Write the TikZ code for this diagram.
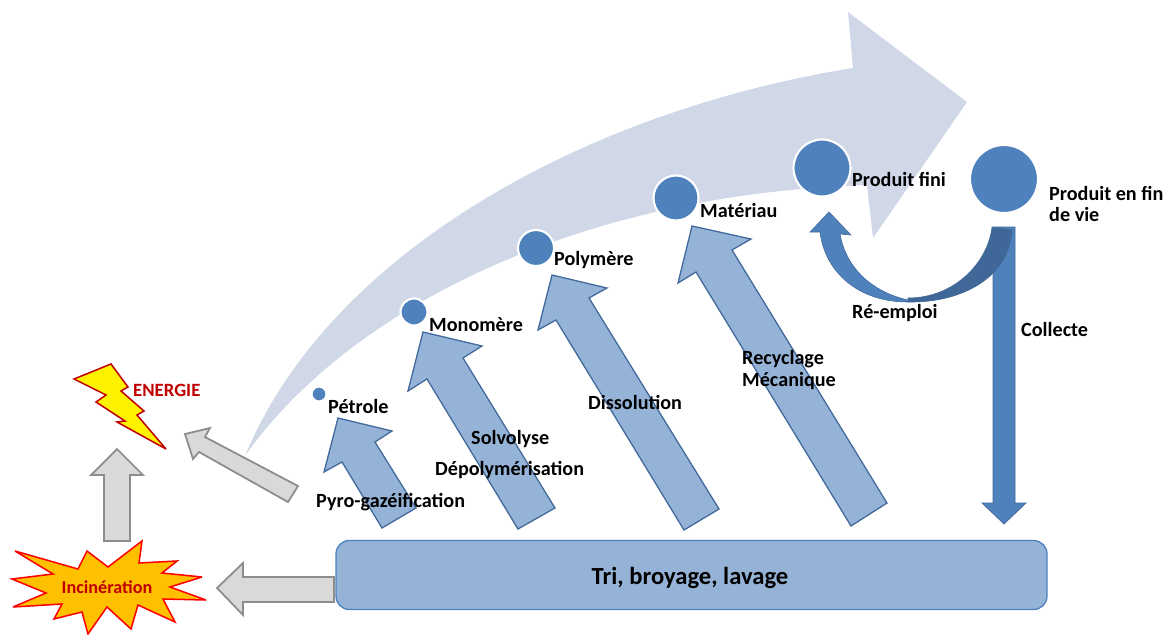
\documentclass[tikz,border=0pt]{standalone}
\usepackage{fontspec}
\setmainfont{Carlito}
\definecolor{palearrow}{HTML}{D0D8E8}
\definecolor{stepfill}{HTML}{95B3D7}
\definecolor{stepline}{HTML}{41699B}
\definecolor{mainblue}{HTML}{4F81BD}
\definecolor{darkblue}{HTML}{3F6797}
\definecolor{grayfill}{HTML}{D9D9D9}
\definecolor{grayline}{HTML}{8C8C8C}
\definecolor{darkred}{HTML}{C00000}
\definecolor{burstfill}{HTML}{FFC000}
\tikzset{
  stagedot/.style={shape=circle,draw=white,fill=mainblue,line width=1.8pt,inner sep=0pt},
  txt/.style={anchor=west,inner sep=0pt,font=\bfseries\fontsize{17.2}{18.5}\selectfont,align=left,text=black},
  steparrow/.style={draw=stepline,fill=stepfill,line width=1.1pt,line join=miter},
  grayarrow/.style={draw=grayline,fill=grayfill,line width=1.5pt,line join=miter},
}
\begin{document}
\begin{tikzpicture}[x=0.03cm,y=-0.03cm]
  \useasboundingbox (0,0) rectangle (1168,634);
  % big pale arrow
  \fill[palearrow] (245,456) .. controls (330,250) and (590,110) .. (853,68) -- (848,12) -- (967,102) -- (873,238) -- (867,185)
    .. controls (560,195) and (340,320) .. (245,456) -- cycle;
  % gray arrows
  \draw[grayarrow] (117,449) -- (143,475) -- (130,475) -- (130,541) -- (104,541) -- (104,475) -- (91,475) -- cycle;
  \draw[grayarrow] (185,434) -- (210,428) -- (205,437) -- (298,486) -- (288,502) -- (199,452) -- (193,459) -- cycle;
  \draw[grayarrow] (217,588) -- (243,563) -- (243,577) -- (334,577) -- (334,602) -- (243,602) -- (243,615) -- cycle;
  % burst and bolt
  \draw[draw=red,fill=burstfill,line width=1.3pt,miter limit=4] (142,541) -- (139,563) -- (177,561) -- (162,573) -- (202,577) -- (170,587)
    -- (206,600) -- (163,599) -- (175,622) -- (138,605) -- (131,629) -- (107,607) -- (88,634) -- (82,612)
    -- (54,619) -- (62,604) -- (13,607) -- (46,593) -- (12,579) -- (53,574) -- (15,551) -- (78,569) -- (87,551) -- (108,567) -- cycle;
  \draw[draw=darkred,fill=yellow,line width=1.3pt,miter limit=4] (111,364) -- (74,379) -- (106,395) -- (96,402) -- (125,421) -- (117,422) -- (166,449)
    -- (137,415) -- (144,411) -- (121,391) -- (128,387) -- cycle;
  % step arrows
  \draw[steparrow] (338,418) -- (392,431) -- (375,442) -- (416,508) -- (382,528) -- (342,462) -- (324,472) -- cycle;
  \draw[steparrow] (423,332) -- (482,346) -- (463,358) -- (555,508) -- (518,529) -- (427,379) -- (408,391) -- cycle;
  \draw[steparrow] (552,275) -- (607,288) -- (589,298) -- (719,509) -- (684,530) -- (556,320) -- (538,330) -- cycle;
  \draw[steparrow] (692,226) -- (751,239) -- (732,250) -- (887,503) -- (851,526) -- (696,272) -- (678,283) -- cycle;
  % collecte arrow
  \draw[draw=stepline,fill=mainblue,line width=0.6pt] (993,227) -- (1015,227) -- (1015,503) -- (1026,503) -- (1004,524) -- (982,503) -- (993,503) -- cycle;
  % re-emploi arrow
  \draw[draw=stepline,fill=darkblue,line width=0.5pt] (992,227) .. controls (988,262) and (955,298) .. (908,298) -- (908,302) .. controls (965,303) and (1010,275) .. (1012,230) -- cycle;
  \draw[draw=stepline,fill=mainblue,line width=0.5pt] (820,232) .. controls (825,272) and (858,302) .. (908,302) -- (908,300) .. controls (872,292) and (846,268) .. (840,234)
    -- (851,235) -- (829,212) -- (810,232) -- cycle;
  % stages
  \node[stagedot,minimum size=15*0.03cm] (petrole) at (319,394) {};
  \node[stagedot,minimum size=27*0.03cm] (monomere) at (414,312) {};
  \node[stagedot,minimum size=36*0.03cm] (polymere) at (536,248) {};
  \node[stagedot,minimum size=45*0.03cm] (materiau) at (676,198) {};
  \node[stagedot,minimum size=57*0.03cm] (produitfini) at (822,168) {};
  \node[stagedot,minimum size=68*0.03cm] (produitfin) at (1004,179) {};
  \node[draw=mainblue,fill=stepfill,rounded corners=0.4cm,line width=1.1pt,minimum width=711*0.03cm,minimum height=69*0.03cm,inner sep=0pt] (tri) at (691.5,575) {};
  % labels
  \node[txt,anchor=center,font=\bfseries\fontsize{21}{24}\selectfont] (ltri) at (690,577.5) {Tri, broyage, lavage};
  \node[txt] (lpetrole) at (328,406) {Pétrole};
  \node[txt] (lmonomere) at (429,325) {Monomère};
  \node[txt] (lpolymere) at (554,260) {Polymère};
  \node[txt] (lmateriau) at (700,210) {Matériau};
  \node[txt] (lproduitfini) at (852,179) {Produit fini};
  \node[txt] (lproduitfin) at (1049,204) {Produit en fin\\de vie};
  \node[txt] (lreemploi) at (852,313) {Ré-emploi};
  \node[txt] (lcollecte) at (1021,329) {Collecte};
  \node[txt] (lrecyclage) at (742,370) {Recyclage\\Mécanique};
  \node[txt] (ldissolution) at (588,402) {Dissolution};
  \node[txt] (lsolvolyse) at (471,439) {Solvolyse};
  \node[txt] (ldepoly) at (435,470) {Dépolymérisation};
  \node[txt] (lpyro) at (316,502) {Pyro-gazéification};
  \node[txt,text=darkred,font=\bfseries\fontsize{16}{18}\selectfont] (lenergie) at (133,390) {ENERGIE};
  \node[txt,anchor=center,text=darkred,font=\bfseries\fontsize{15.5}{18}\selectfont] (lincineration) at (107,587) {Incinération};
\end{tikzpicture}
\end{document}
